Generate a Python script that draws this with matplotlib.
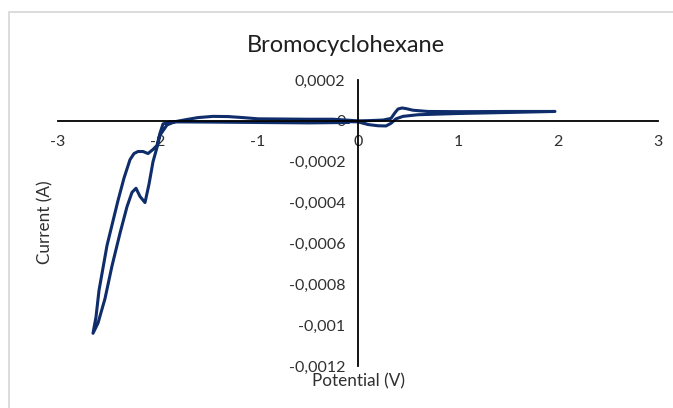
import matplotlib
matplotlib.use("Agg")
import matplotlib.pyplot as plt
from matplotlib.patches import Rectangle
from matplotlib.ticker import FuncFormatter

plt.rcParams['font.family'] = ['Lato', 'DejaVu Sans']

# cyclic voltammogram, one closed sweep (potential in V, current in A)
potential = [
    -0.10, 0.00, 0.10, 0.20, 0.28, 0.33, 0.38, 0.45, 0.60, 1.00, 1.50, 1.97,
    1.50, 1.00, 0.70, 0.55, 0.48, 0.44, 0.40, 0.37, 0.33, 0.25, 0.10, 0.00,
    -0.25, -0.50, -1.00, -1.15, -1.30, -1.45, -1.60, -1.72, -1.83,
    -1.91, -1.98, -2.01, -2.05, -2.09, -2.13, -2.18, -2.22, -2.26, -2.31,
    -2.38, -2.46, -2.53, -2.60, -2.65,
    -2.62, -2.59, -2.55, -2.51, -2.46, -2.40, -2.34, -2.28, -2.24, -2.20,
    -2.15, -2.10, -2.05, -2.01, -1.98, -1.95, -1.88,
    -1.50, -1.00, -0.50, -0.10,
]
current = [
    -0.000004, -0.000005, -0.000018, -0.000024, -0.000025, -0.000012, 0.000010, 0.000022, 0.000030, 0.000036, 0.000041, 0.000046,
    0.000046, 0.000045, 0.000046, 0.000052, 0.000060, 0.000063, 0.000058, 0.000040, 0.000012, 0.000004, 0.000001, 0.000000,
    0.000008, 0.000008, 0.000010, 0.000016, 0.000021, 0.000022, 0.000016, 0.000006, -0.000004,
    -0.000020, -0.000070, -0.000130, -0.000200, -0.000310, -0.000400, -0.000370, -0.000330, -0.000350, -0.000420,
    -0.000550, -0.000710, -0.000870, -0.000990, -0.001040,
    -0.000960, -0.000830, -0.000720, -0.000610, -0.000510, -0.000390, -0.000280, -0.000190, -0.000160, -0.000150,
    -0.000150, -0.000160, -0.000140, -0.000120, -0.000060, -0.000015, -0.000005,
    -0.000006, -0.000008, -0.000010, -0.000008,
]

x_ticks = [-3, -2, -1, 0, 1, 2, 3]
y_ticks = [-0.0012, -0.001, -0.0008, -0.0006, -0.0004, -0.0002, 0, 0.0002]

fig = plt.figure(figsize=(6.73, 4.08), dpi=100)
ax = fig.add_axes([58 / 673, 1 - 366 / 408, 600 / 673, 286 / 408])

ax.plot(potential, current, color='#0f2d6b', lw=2.2, solid_joinstyle='round')

ax.set_xlim(-3, 3)
ax.set_ylim(-0.0012, 0.0002)
ax.set_xticks(x_ticks)
ax.set_yticks(y_ticks)

# comma as decimal separator, like the spreadsheet it came from
def comma(v, pos):
    s = ('%.4f' % v).rstrip('0').rstrip('.')
    if s in ('-0', ''):
        s = '0'
    return s.replace('.', ',')

ax.xaxis.set_major_formatter(FuncFormatter(lambda v, p: '%d' % v))
ax.yaxis.set_major_formatter(FuncFormatter(comma))

# axes cross at the origin
ax.spines['left'].set_position(('data', 0))
ax.spines['bottom'].set_position(('data', 0))
ax.spines['right'].set_visible(False)
ax.spines['top'].set_visible(False)
for s in ('left', 'bottom'):
    ax.spines[s].set_linewidth(1.3)
    ax.spines[s].set_color('black')

ax.tick_params(axis='x', length=0, pad=10, labelsize=11.5, labelcolor='#303030')
ax.tick_params(axis='y', length=0, pad=9, labelsize=11.5, labelcolor='#303030')
ax.patch.set_visible(False)

fig.text(346 / 673, 1 - 45 / 408, 'Bromocyclohexane', ha='center', va='center',
         fontsize=17, color='#1f1f1f')
fig.text(358 / 673, 1 - 381 / 408, 'Potential (V)', ha='center', va='center',
         fontsize=12.3, color='#303030')
fig.text(45 / 673, 1 - 222 / 408, 'Current (A)', ha='center', va='center',
         rotation=90, fontsize=12.3, color='#303030')

# chart frame
fig.patches.append(Rectangle((8.5 / 673, -0.5), 2, 0.5 + 1 - 11.5 / 408,
                             transform=fig.transFigure, fill=False,
                             edgecolor='#d9d9d9', lw=1.3))

fig.savefig('out.png', dpi=100)
